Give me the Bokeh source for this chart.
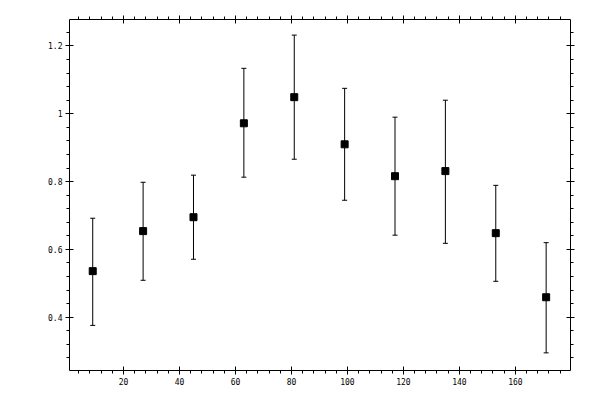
from bokeh.embed import file_html
from bokeh.models import (ColumnDataSource, CustomJSTickFormatter, LinearAxis,
                          NumeralTickFormatter, Range1d, SingleIntervalTicker,
                          TeeHead, Whisker)
from bokeh.plotting import figure
from bokeh.resources import INLINE

# values
angle = [9, 27, 45, 63, 81, 99, 117, 135, 153, 171]
ratio = [0.536, 0.654, 0.695, 0.972, 1.049, 0.910, 0.816, 0.831, 0.648, 0.459]
ratio_hi = [0.692, 0.798, 0.819, 1.134, 1.232, 1.075, 0.990, 1.040, 0.789, 0.620]
ratio_lo = [0.376, 0.509, 0.571, 0.813, 0.866, 0.745, 0.642, 0.618, 0.506, 0.295]

FONT = "DejaVu Sans Mono"

source = ColumnDataSource(dict(x=angle, y=ratio, upper=ratio_hi, lower=ratio_lo))

p = figure(frame_width=501, frame_height=351,
           min_border_left=69, min_border_right=30,
           min_border_top=19, min_border_bottom=30,
           x_range=Range1d(0.7, 179.7), y_range=Range1d(0.243, 1.278),
           x_axis_location=None, y_axis_location=None,
           output_backend="svg", toolbar_location=None)
p.outline_line_color = None
p.grid.visible = False
p.background_fill_color = "white"
p.border_fill_color = "white"


def make_axis(interval, show_labels):
    ax = LinearAxis(ticker=SingleIntervalTicker(interval=interval, num_minor_ticks=5))
    ax.axis_line_color = "black"
    ax.axis_line_width = 1
    ax.major_tick_in = 4
    ax.major_tick_out = 4
    ax.minor_tick_in = 0
    ax.minor_tick_out = 3
    ax.major_tick_line_color = "black"
    ax.minor_tick_line_color = "black"
    ax.major_label_text_font = FONT
    ax.major_label_text_font_size = "8px"
    ax.major_label_text_color = "black"
    if show_labels:
        ax.formatter = NumeralTickFormatter(format="0.[0]")
        ax.major_label_standoff = 3
    else:
        # ticks only on the opposite sides
        ax.formatter = CustomJSTickFormatter(code="return ''")
        ax.major_label_standoff = 0
    return ax


p.add_layout(make_axis(20, True), "below")
p.add_layout(make_axis(20, False), "above")
p.add_layout(make_axis(0.2, True), "left")
p.add_layout(make_axis(0.2, False), "right")

err = Whisker(source=source, base="x", upper="upper", lower="lower",
              line_color="black", line_width=1,
              upper_head=TeeHead(size=5, line_color="black", line_width=1),
              lower_head=TeeHead(size=5, line_color="black", line_width=1))
p.add_layout(err)

p.scatter("x", "y", source=source, marker="square", size=7,
          fill_color="black", line_color="black")

open("out.html", "w").write(file_html(p, INLINE))
